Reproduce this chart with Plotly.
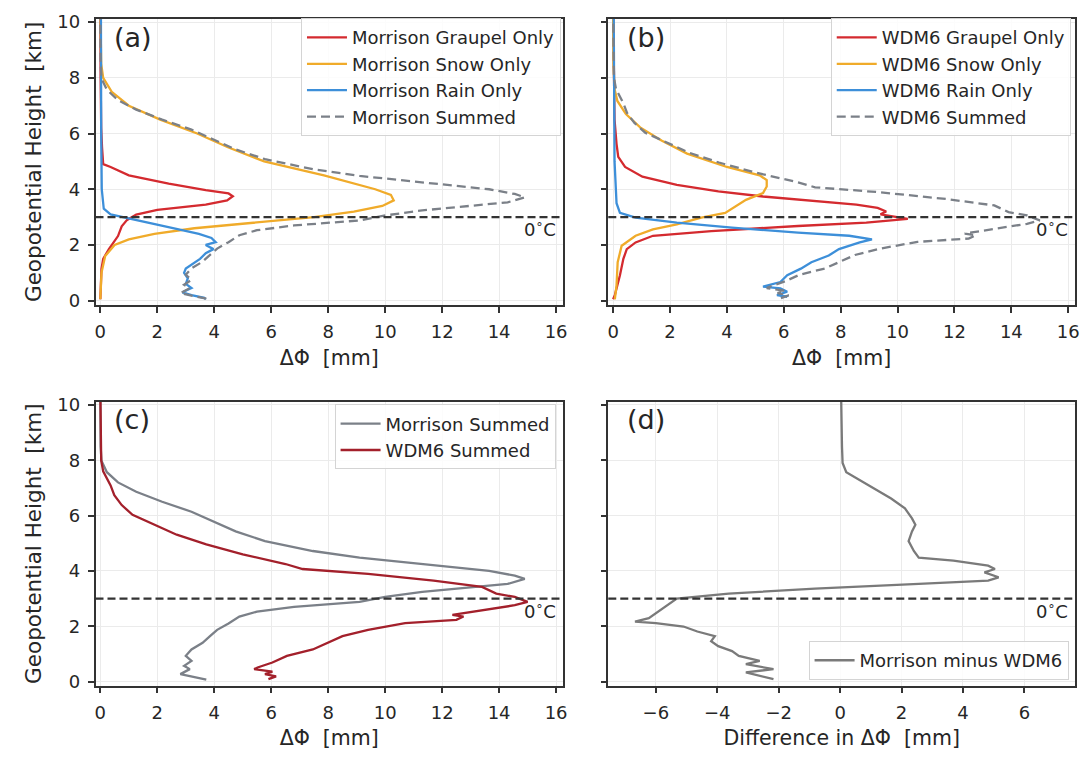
import plotly.graph_objects as go

# ---------------- data ----------------
# Panel (a): Morrison
mor_graupel_z = [0.05, 1.14, 1.5, 1.85, 2.32, 2.67, 2.9, 3.09, 3.26, 3.45, 3.6, 3.75, 3.85, 3.97, 4.2, 4.5, 4.8, 4.9, 5.5, 6.2, 8.0, 10.5]
mor_graupel_x = [0.0, 0.04, 0.1, 0.3, 0.62, 0.75, 0.94, 1.26, 2.0, 3.7, 4.45, 4.65, 4.5, 3.7, 2.4, 1.0, 0.36, 0.1, 0.06, 0.03, 0.01, 0.0]

mor_snow_z = [0.05, 1.0, 1.6, 2.0, 2.2, 2.4, 2.6, 2.8, 3.0, 3.2, 3.4, 3.6, 3.8, 4.0, 4.2, 4.5, 5.0, 5.5, 6.0, 6.5, 7.0, 7.5, 8.0, 8.5, 10.5]
mor_snow_x = [0.0, 0.04, 0.17, 0.5, 1.0, 1.9, 3.3, 5.3, 7.5, 8.9, 9.9, 10.3, 10.2, 9.65, 8.9, 7.85, 5.75, 4.5, 3.4, 2.1, 1.0, 0.4, 0.1, 0.03, 0.0]

mor_rain_z = [0.05, 0.1, 0.2, 0.3, 0.45, 0.6, 0.8, 1.0, 1.15, 1.3, 1.5, 1.7, 1.85, 2.0, 2.1, 2.25, 2.4, 2.6, 2.8, 3.0, 3.1, 3.3, 4.0, 6.0, 8.0, 10.5]
mor_rain_x = [3.7, 3.65, 3.2, 2.88, 3.2, 3.0, 3.07, 2.94, 3.0, 3.2, 3.5, 3.7, 3.97, 3.7, 4.05, 3.9, 3.46, 2.55, 1.65, 0.75, 0.36, 0.12, 0.05, 0.03, 0.02, 0.02]

mor_sum_z = [0.07, 0.15, 0.27, 0.45, 0.57, 0.75, 0.93, 1.16, 1.4, 1.64, 1.87, 2.1, 2.35, 2.53, 2.7, 2.88, 3.06, 3.24, 3.42, 3.53, 3.71, 3.83, 4.0, 4.25, 4.48, 4.72, 5.08, 5.43, 5.79, 6.14, 6.5, 6.86, 7.2, 7.57, 7.98, 8.5, 10.5]
mor_sum_x = [3.72, 3.33, 2.81, 3.14, 2.94, 3.2, 3.0, 3.2, 3.59, 3.85, 4.1, 4.5, 4.88, 5.5, 6.8, 9.1, 10.0, 11.3, 13.26, 14.3, 14.9, 14.55, 13.65, 11.3, 9.1, 7.46, 5.78, 4.75, 3.97, 3.2, 2.17, 1.26, 0.62, 0.23, 0.04, 0.01, 0.0]

# Panel (b): WDM6
wdm_graupel_z = [0.05, 0.2, 0.91, 1.5, 1.85, 2.09, 2.33, 2.5, 2.68, 2.8, 2.94, 3.0, 3.1, 3.2, 3.33, 3.45, 3.57, 3.74, 3.92, 4.16, 4.45, 4.8, 5.16, 5.63, 6.5, 8.0, 10.5]
wdm_graupel_x = [0.0, 0.06, 0.24, 0.36, 0.48, 0.79, 1.4, 3.45, 6.5, 8.9, 10.36, 10.0, 9.4, 9.6, 9.3, 8.55, 7.1, 5.27, 3.7, 2.24, 1.03, 0.42, 0.18, 0.12, 0.05, 0.02, 0.0]

wdm_snow_z = [0.05, 0.55, 1.38, 1.97, 2.33, 2.56, 2.74, 2.98, 3.15, 3.39, 3.62, 3.86, 4.1, 4.33, 4.5, 4.8, 5.28, 5.75, 6.22, 6.7, 7.17, 7.6, 8.5, 10.5]
wdm_snow_x = [0.06, 0.12, 0.16, 0.3, 0.79, 1.4, 2.24, 3.1, 3.94, 4.3, 4.67, 5.27, 5.4, 5.4, 5.15, 4.0, 2.6, 1.7, 0.95, 0.45, 0.15, 0.05, 0.01, 0.0]

wdm_rain_z = [0.14, 0.2, 0.32, 0.44, 0.5, 0.67, 0.91, 1.15, 1.38, 1.62, 1.85, 2.09, 2.2, 2.33, 2.44, 2.62, 2.8, 2.98, 3.15, 3.5, 5.0, 8.0, 10.5]
wdm_rain_x = [6.12, 5.76, 6.12, 5.88, 5.27, 5.88, 6.12, 6.6, 6.97, 7.58, 7.94, 8.67, 9.1, 8.3, 6.5, 4.18, 2.24, 0.79, 0.24, 0.12, 0.05, 0.02, 0.02]

wdm_sum_z = [0.09, 0.19, 0.27, 0.36, 0.45, 0.51, 0.69, 0.93, 1.16, 1.4, 1.64, 1.87, 2.11, 2.23, 2.35, 2.41, 2.59, 2.76, 2.88, 3.06, 3.18, 3.42, 3.65, 3.89, 4.07, 4.25, 4.6, 4.96, 5.31, 5.67, 6.03, 6.38, 6.74, 7.09, 7.33, 7.6, 8.0, 10.5]
wdm_sum_x = [5.9, 6.17, 5.78, 6.04, 5.4, 5.52, 6.04, 6.55, 7.46, 7.97, 8.5, 9.4, 10.7, 12.5, 12.75, 12.36, 13.5, 14.55, 15.0, 14.55, 13.9, 13.4, 11.7, 9.4, 7.1, 6.5, 5.0, 3.72, 2.68, 1.9, 1.13, 0.75, 0.49, 0.36, 0.23, 0.1, 0.03, 0.0]

# Panel (d): Morrison minus WDM6
diff_z = [0.09, 0.21, 0.33, 0.45, 0.63, 0.75, 0.93, 1.1, 1.28, 1.46, 1.64, 1.81, 1.99, 2.11, 2.17, 2.29, 2.47, 2.65, 2.82, 3.0, 3.18, 3.36, 3.53, 3.65, 3.77, 3.95, 4.07, 4.19, 4.37, 4.48, 4.72, 5.08, 5.43, 5.67, 5.9, 6.26, 6.62, 6.98, 7.33, 7.57, 7.9, 8.5, 10.5]
diff_x = [-2.17, -2.62, -3.07, -2.17, -3.07, -2.62, -3.3, -3.52, -3.97, -4.2, -4.08, -4.65, -5.1, -6.0, -6.68, -6.23, -6.0, -5.77, -5.55, -5.32, -3.63, -0.82, 2.56, 4.82, 5.16, 4.7, 5.04, 4.82, 3.69, 2.56, 2.4, 2.23, 2.34, 2.45, 2.34, 2.11, 1.66, 1.1, 0.54, 0.2, 0.08, 0.06, 0.03]

freezing_level_km = 3.0
x_ticks_dphi = [0, 2, 4, 6, 8, 10, 12, 14, 16]
x_ticks_diff = [-6, -4, -2, 0, 2, 4, 6]
y_ticks = [0, 2, 4, 6, 8, 10]
panel_labels = ["(a)", "(b)", "(c)", "(d)"]

# ---------------- styling ----------------
FONT = "DejaVu Sans"
TXT = "#262626"
C_GRAUPEL = "#d42a2f"
C_SNOW = "#f0ab2a"
C_RAIN = "#3d8fd9"
C_SUM = "#7b8088"
C_WSUM = "#a3202b"
C_DIFF = "#7a7a7a"
LW = 2.3

fig = go.Figure()

def add(x, z, name, color, ax, legend, dash=None):
    fig.add_trace(go.Scatter(
        x=x, y=z, mode="lines", name=name,
        line=dict(color=color, width=LW, dash=dash),
        xaxis="x" + ax, yaxis="y" + ax, legend=legend))

# (a)
add(mor_graupel_x, mor_graupel_z, "Morrison Graupel Only", C_GRAUPEL, "", "legend")
add(mor_snow_x, mor_snow_z, "Morrison Snow Only", C_SNOW, "", "legend")
add(mor_rain_x, mor_rain_z, "Morrison Rain Only", C_RAIN, "", "legend")
add(mor_sum_x, mor_sum_z, "Morrison Summed", C_SUM, "", "legend", dash="9px,5px")
# (b)
add(wdm_graupel_x, wdm_graupel_z, "WDM6 Graupel Only", C_GRAUPEL, "2", "legend2")
add(wdm_snow_x, wdm_snow_z, "WDM6 Snow Only", C_SNOW, "2", "legend2")
add(wdm_rain_x, wdm_rain_z, "WDM6 Rain Only", C_RAIN, "2", "legend2")
add(wdm_sum_x, wdm_sum_z, "WDM6 Summed", C_SUM, "2", "legend2", dash="9px,5px")
# (c)
add(mor_sum_x, mor_sum_z, "Morrison Summed", C_SUM, "3", "legend3")
add(wdm_sum_x, wdm_sum_z, "WDM6 Summed", C_WSUM, "3", "legend3")
# (d)
add(diff_x, diff_z, "Morrison minus WDM6", C_DIFF, "4", "legend4")

XA = [0.0875, 0.5203]
XB = [0.5623, 0.9945]
YT = [0.6013, 0.9842]
YB = [0.0914, 0.4717]

def common():
    return dict(showline=True, mirror=True, linecolor="#333333", linewidth=1.5,
                ticks="outside", ticklen=6, tickwidth=1.5, tickcolor="#333333",
                showgrid=True, gridcolor="#ebebeb", gridwidth=1, zeroline=False,
                ticklabelstandoff=4,
                tickfont=dict(family=FONT, size=18, color=TXT))

def xaxis(dom, anchor, rng, ticks, title):
    d = common()
    d.update(domain=dom, anchor=anchor, range=rng, tickmode="array", tickvals=ticks,
             title=dict(text=title, font=dict(family=FONT, size=20.5, color=TXT), standoff=9))
    return d

def yaxis(dom, anchor, labels, title=None):
    d = common()
    d.update(domain=dom, anchor=anchor, range=[-0.15, 10.12], tickmode="array", tickvals=y_ticks,
             showticklabels=labels)
    if title:
        d["title"] = dict(text=title, font=dict(family=FONT, size=21.5, color=TXT), standoff=10)
    return d

dphi = "ΔΦ\u00a0 [mm]"
yt = "Geopotential Height\u00a0 [km]"
rng = [-0.17, 16.24]
rngd = [-7.55, 7.65]

def legend(x, y, xanchor="right", yanchor="top"):
    return dict(x=x, y=y, xanchor=xanchor, yanchor=yanchor, xref="paper", yref="paper",
                bgcolor="rgba(255,255,255,0.85)", bordercolor="#d4d4d4", borderwidth=1,
                font=dict(family=FONT, size=18, color=TXT), tracegroupgap=0, itemwidth=40)

fig.update_layout(
    width=1086, height=760, margin=dict(l=0, r=0, t=0, b=0),
    paper_bgcolor="white", plot_bgcolor="white",
    font=dict(family=FONT, color=TXT),
    xaxis=xaxis(XA, "y", rng, x_ticks_dphi, dphi),
    yaxis=yaxis(YT, "x", True, yt),
    xaxis2=xaxis(XB, "y2", rng, x_ticks_dphi, dphi),
    yaxis2=yaxis(YT, "x2", False),
    xaxis3=xaxis(XA, "y3", rng, x_ticks_dphi, dphi),
    yaxis3=yaxis(YB, "x3", True, yt),
    xaxis4=xaxis(XB, "y4", rngd, x_ticks_diff, "Difference in " + dphi),
    yaxis4=yaxis(YB, "x4", False),
    legend=legend(0.5185, 0.985),
    legend2=legend(0.9905, 0.985),
    legend3=legend(0.5135, 0.468),
    legend4=legend(0.9885, 0.099, yanchor="bottom"),
)

for i, ax in enumerate(["", "2", "3", "4"]):
    xr = "x" + ax
    yr = "y" + ax
    fig.add_shape(type="line", xref=xr + " domain", yref=yr, x0=0, x1=1,
                  y0=freezing_level_km, y1=freezing_level_km,
                  line=dict(color="#333333", width=2.2, dash="8px,4px"), layer="above")
    fig.add_annotation(xref=xr + " domain", yref=yr, x=0.99, y=freezing_level_km - 0.4,
                       text="0<sup>∘</sup>C", showarrow=False, xanchor="right", yanchor="middle",
                       font=dict(family=FONT, size=18, color=TXT))
    fig.add_annotation(xref=xr + " domain", yref=yr + " domain", x=0.035, y=0.997,
                       text=panel_labels[i], showarrow=False, xanchor="left", yanchor="top",
                       font=dict(family=FONT, size=27, color=TXT))

fig.write_html("out.html")
